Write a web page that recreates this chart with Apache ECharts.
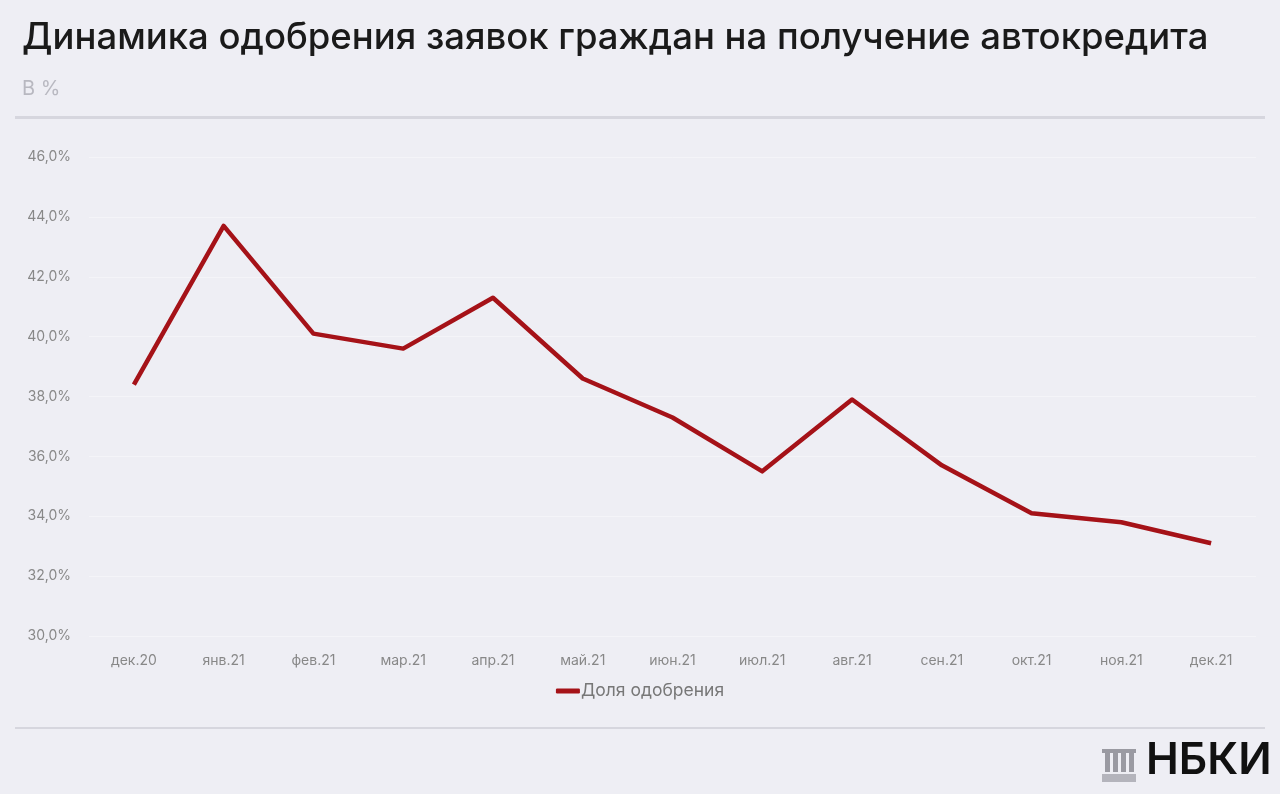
<!DOCTYPE html>
<html>
<head>
<meta charset="utf-8">
<script src="https://cdn.jsdelivr.net/npm/echarts@6/dist/echarts.min.js"></script>
<style>
html,body{margin:0;padding:0;background:#eeeef4;}
#c{width:1280px;height:794px;}
</style>
</head>
<body>
<div id="c"></div>
<script>
const categories = ['дек.20','янв.21','фев.21','мар.21','апр.21','май.21','июн.21','июл.21','авг.21','сен.21','окт.21','ноя.21','дек.21'];
const approvalShare = [38.4, 43.7, 40.1, 39.6, 41.3, 38.6, 37.3, 35.5, 37.9, 35.7, 34.1, 33.8, 33.1];
const seriesName = 'Доля одобрения';
const titleText = 'Динамика одобрения заявок граждан на получение автокредита';
const subtitleText = 'В %';
const brandText = 'НБКИ';

const chart = echarts.init(document.getElementById('c'));
chart.setOption({
  backgroundColor: '#eeeef4',
  animation: false,
  title: {
    text: titleText,
    subtext: subtitleText,
    left: 17, top: 15,
    itemGap: 22,
    textStyle: {fontFamily: 'Inter', fontSize: 36.5, fontWeight: 500, color: '#1a1a1a'},
    subtextStyle: {fontFamily: 'Inter', fontSize: 20, color: '#b8b8c0'}
  },
  legend: {
    bottom: 89, left: 'center',
    itemWidth: 24, itemHeight: 5, itemGap: 0,
    icon: 'roundRect',
    textStyle: {fontFamily: 'Inter', fontSize: 17.5, color: '#777', padding: [0,0,0,-4]},
    data: [seriesName]
  },
  grid: {left: 89, right: 24, top: 157, bottom: 158},
  xAxis: {
    type: 'category', data: categories, boundaryGap: true,
    axisLine: {show: false}, axisTick: {show: false},
    axisLabel: {fontFamily: 'Inter', fontSize: 14, color: '#888', margin: 18}
  },
  yAxis: {
    type: 'value', min: 30, max: 46, interval: 2,
    axisLabel: {fontFamily: 'Inter', fontSize: 14, color: '#888', margin: 18,
      formatter: v => v.toFixed(1).replace('.', ',') + '%'},
    splitLine: {lineStyle: {color: '#f4f4f8', width: 1}}
  },
  series: [{
    name: seriesName, type: 'line', data: approvalShare,
    symbol: 'none', lineStyle: {color: '#a51218', width: 4.5, join: 'round'},
    itemStyle: {color: '#a51218'}
  }],
  graphic: [
    {type: 'rect', shape: {x: 15, y: 116, width: 1250, height: 3}, style: {fill: '#d6d6de'}},
    {type: 'rect', shape: {x: 15, y: 727, width: 1250, height: 2}, style: {fill: '#d6d6de'}},
    {type: 'group', left: 1102, top: 749, children: [
      {type: 'rect', shape: {x: 0, y: 0, width: 34, height: 4}, style: {fill: '#9a9aa2'}},
      {type: 'rect', shape: {x: 3, y: 4, width: 5, height: 19}, style: {fill: '#9a9aa2'}},
      {type: 'rect', shape: {x: 11, y: 4, width: 5, height: 19}, style: {fill: '#9a9aa2'}},
      {type: 'rect', shape: {x: 19, y: 4, width: 5, height: 19}, style: {fill: '#9a9aa2'}},
      {type: 'rect', shape: {x: 27, y: 4, width: 5, height: 19}, style: {fill: '#9a9aa2'}},
      {type: 'rect', shape: {x: 0, y: 25, width: 34, height: 8}, style: {fill: '#b4b4bc'}}
    ]},
    {type: 'text', left: 1146, top: 739, style: {text: brandText, fontFamily: 'Inter', fontSize: 44, fontWeight: 600, fill: '#111'}}
  ]
});
</script>
</body>
</html>
